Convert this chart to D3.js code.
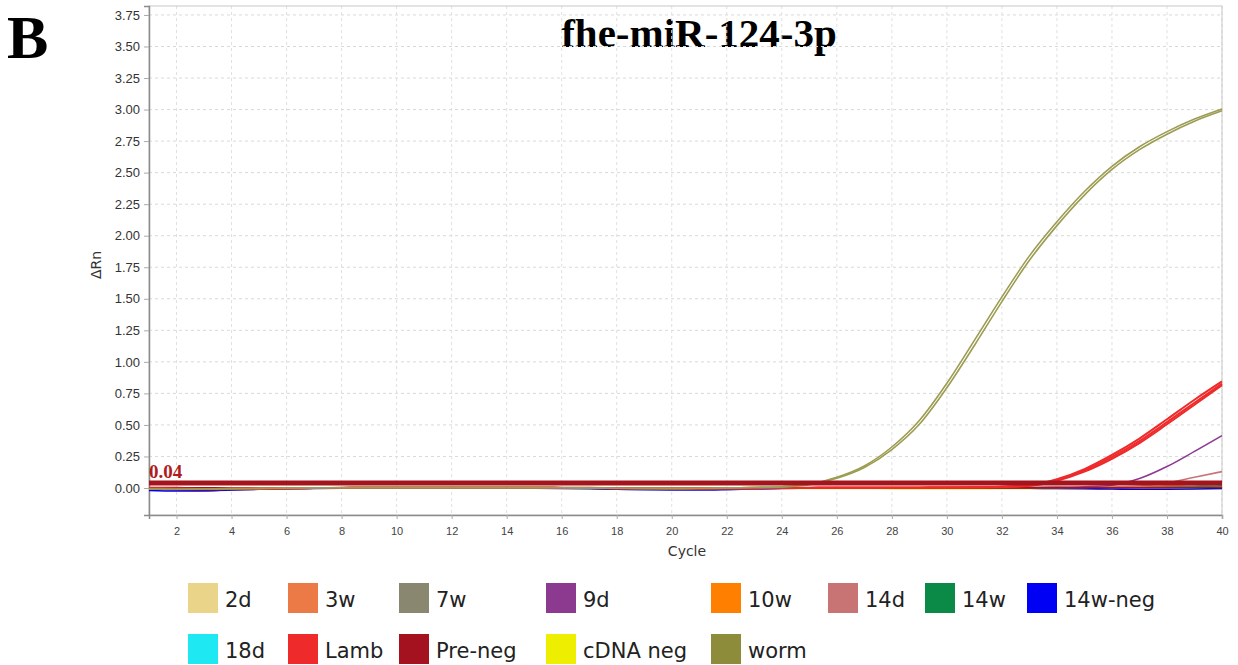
<!DOCTYPE html>
<html>
<head>
<meta charset="utf-8">
<script src="https://cdn.jsdelivr.net/npm/d3@7/dist/d3.min.js"></script>
<style>
  html, body { margin: 0; padding: 0; background: #fff; }
  svg { display: block; }
</style>
</head>
<body>
<svg id="chart" width="1238" height="665"></svg>
<script>
// Amplification plot: ΔRn per cycle for each sample
const cycles = [1,2,3,4,5,6,7,8,9,10,11,12,13,14,15,16,17,18,19,20,21,22,23,24,25,26,27,28,29,30,31,32,33,34,35,36,37,38,39,40];
const xTicks = [2,4,6,8,10,12,14,16,18,20,22,24,26,28,30,32,34,36,38,40];
const yTicks = [0,0.25,0.5,0.75,1,1.25,1.5,1.75,2,2.25,2.5,2.75,3,3.25,3.5,3.75];
const threshold = 0.04;

const sampleNames = ["2d","3w","7w","9d","10w","14d","14w","14w-neg","18d","Lamb","Pre-neg","cDNA neg","worm"];
const sampleColors = ["#e9d48a","#ec7a46","#8a8770","#8c3a90","#ff7f00","#c97474","#0b8a47","#0000f5","#1ee8f2","#ee2a2a","#a3121e","#eeee00","#8c8c3a"];

// replicate curves (values per cycle)
const curve2d      = [0.000,-0.005,-0.008,-0.006,-0.004,-0.002,0.000,0.001,0.002,0.002,0.002,0.002,0.002,0.002,0.002,0.001,0.000,-0.002,-0.004,-0.005,-0.005,-0.004,-0.002,0.000,0.001,0.002,0.002,0.002,0.002,0.002,0.002,0.002,0.001,0.000,-0.001,-0.001,0.000,0.002,0.004,0.006];
const curve3w      = [-0.010,-0.018,-0.025,-0.015,-0.008,-0.004,-0.001,0.001,0.002,0.002,0.002,0.002,0.002,0.002,0.002,0.001,0.000,-0.001,-0.002,-0.003,-0.003,-0.002,-0.001,0.000,0.001,0.002,0.002,0.002,0.002,0.002,0.002,0.002,0.002,0.003,0.004,0.006,0.010,0.018,0.030,0.052];
const curve7w      = [0.000,-0.004,-0.006,-0.005,-0.003,-0.002,0.000,0.001,0.001,0.002,0.002,0.002,0.002,0.002,0.002,0.001,0.000,-0.001,-0.002,-0.002,-0.002,-0.002,-0.001,0.000,0.001,0.001,0.002,0.002,0.002,0.002,0.002,0.002,0.001,0.001,0.001,0.002,0.004,0.008,0.016,0.030];
const curve9d      = [-0.006,-0.010,-0.012,-0.010,-0.007,-0.004,-0.002,0.000,0.001,0.002,0.002,0.002,0.002,0.002,0.002,0.001,0.000,-0.002,-0.004,-0.005,-0.005,-0.004,-0.003,-0.002,-0.001,0.000,0.001,0.001,0.001,0.001,0.002,0.002,0.003,0.005,0.010,0.022,0.075,0.170,0.290,0.415];
const curve10w     = [-0.006,-0.015,-0.022,-0.012,-0.006,-0.003,-0.001,0.000,0.001,0.001,0.001,0.001,0.001,0.001,0.001,0.000,-0.001,-0.002,-0.003,-0.003,-0.003,-0.002,-0.001,0.000,0.000,0.001,0.001,0.001,0.001,0.001,0.001,0.001,0.000,-0.001,-0.002,-0.003,-0.003,-0.002,0.000,0.004];
const curve14d     = [-0.004,-0.008,-0.010,-0.008,-0.006,-0.004,-0.002,0.000,0.001,0.001,0.001,0.001,0.001,0.001,0.001,0.000,-0.001,-0.003,-0.004,-0.005,-0.005,-0.004,-0.003,-0.002,-0.001,0.000,0.000,0.001,0.001,0.001,0.001,0.002,0.002,0.003,0.005,0.008,0.016,0.040,0.085,0.130];
const curve14w     = [-0.004,-0.008,-0.010,-0.008,-0.005,-0.003,-0.001,0.000,0.001,0.001,0.001,0.001,0.001,0.001,0.001,0.000,-0.001,-0.002,-0.003,-0.004,-0.004,-0.003,-0.002,-0.001,0.000,0.000,0.001,0.001,0.001,0.001,0.001,0.001,0.001,0.000,0.000,0.000,0.001,0.003,0.008,0.018];
const curve14wNeg  = [-0.020,-0.024,-0.022,-0.015,-0.010,-0.006,-0.003,-0.001,0.000,0.001,0.001,0.001,0.001,0.000,-0.001,-0.003,-0.006,-0.010,-0.014,-0.016,-0.016,-0.013,-0.008,-0.004,-0.002,0.000,0.001,0.001,0.001,0.001,0.001,0.000,-0.002,-0.004,-0.006,-0.008,-0.010,-0.010,-0.008,-0.004];
const curve18d     = [-0.004,-0.006,-0.007,-0.006,-0.004,-0.002,0.000,0.001,0.001,0.001,0.001,0.001,0.001,0.001,0.001,0.000,-0.001,-0.002,-0.003,-0.003,-0.003,-0.002,-0.001,0.000,0.000,0.001,0.001,0.001,0.001,0.001,0.001,0.001,0.000,0.000,-0.001,-0.001,0.000,0.001,0.003,0.006];
const curveLamb1   = [-0.002,-0.006,-0.008,-0.006,-0.004,-0.002,0.000,0.001,0.002,0.002,0.002,0.002,0.002,0.002,0.002,0.001,0.000,-0.001,-0.002,-0.003,-0.003,-0.002,-0.001,0.000,0.001,0.002,0.002,0.002,0.003,0.004,0.006,0.010,0.022,0.070,0.150,0.262,0.392,0.545,0.700,0.845];
const curveLamb2   = [-0.002,-0.006,-0.008,-0.006,-0.004,-0.002,0.000,0.001,0.002,0.002,0.002,0.002,0.002,0.002,0.002,0.001,0.000,-0.001,-0.002,-0.003,-0.003,-0.002,-0.001,0.000,0.001,0.002,0.002,0.002,0.003,0.004,0.006,0.009,0.020,0.064,0.140,0.246,0.372,0.522,0.676,0.828];
const curveLamb3   = [-0.002,-0.006,-0.008,-0.006,-0.004,-0.002,0.000,0.001,0.002,0.002,0.002,0.002,0.002,0.002,0.002,0.001,0.000,-0.001,-0.002,-0.003,-0.003,-0.002,-0.001,0.000,0.001,0.002,0.002,0.002,0.003,0.004,0.005,0.008,0.017,0.058,0.130,0.232,0.356,0.505,0.660,0.815];
const curvePreNeg  = [0.004,0.003,0.002,0.002,0.002,0.002,0.002,0.003,0.003,0.003,0.003,0.003,0.003,0.003,0.003,0.003,0.003,0.002,0.002,0.002,0.002,0.002,0.003,0.003,0.003,0.003,0.003,0.003,0.003,0.003,0.003,0.003,0.003,0.003,0.002,0.002,0.002,0.003,0.004,0.005];
const curveCdnaNeg = [-0.002,-0.004,-0.005,-0.004,-0.003,-0.002,-0.001,0.000,0.000,0.000,0.000,0.000,0.000,0.000,-0.001,-0.002,-0.004,-0.006,-0.007,-0.007,-0.007,-0.006,-0.005,-0.004,-0.003,-0.003,-0.004,-0.005,-0.006,-0.006,-0.006,-0.006,-0.006,-0.006,-0.006,-0.006,-0.006,-0.006,-0.006,-0.006];
const curveWorm1   = [-0.008,-0.010,-0.008,-0.005,-0.003,-0.001,0.001,0.002,0.003,0.003,0.003,0.003,0.003,0.003,0.003,0.002,0.000,-0.002,-0.003,-0.003,-0.002,0.000,0.004,0.010,0.030,0.085,0.175,0.325,0.535,0.830,1.170,1.515,1.840,2.110,2.350,2.550,2.705,2.825,2.925,3.005];
const curveWorm2   = [-0.008,-0.010,-0.008,-0.005,-0.003,-0.001,0.001,0.002,0.003,0.003,0.003,0.003,0.003,0.003,0.003,0.002,0.000,-0.002,-0.003,-0.003,-0.002,0.000,0.004,0.009,0.027,0.078,0.163,0.305,0.505,0.795,1.130,1.478,1.805,2.080,2.322,2.525,2.682,2.805,2.908,2.990];

const replicates = [
  ["2d", curve2d], ["3w", curve3w], ["7w", curve7w], ["10w", curve10w], ["14w", curve14w],
  ["18d", curve18d], ["cDNA neg", curveCdnaNeg], ["14w-neg", curve14wNeg], ["14d", curve14d],
  ["9d", curve9d], ["Pre-neg", curvePreNeg], ["Lamb", curveLamb3], ["Lamb", curveLamb2], ["Lamb", curveLamb1],
  ["worm", curveWorm1], ["worm", curveWorm2]
];

const colorOf = d3.scaleOrdinal().domain(sampleNames).range(sampleColors);

const svg = d3.select("#chart");
const plot = { left: 149, right: 1222, top: 6, bottom: 515 };

const x = d3.scaleLinear().domain([1, 40]).range([plot.left, plot.right]);
const y = d3.scaleLinear().domain([-0.214, 3.821]).range([plot.bottom, plot.top]);

// panel letter and title
svg.append("text").attr("x", 7).attr("y", 58)
  .attr("font-family", "Liberation Serif, Times New Roman, serif")
  .attr("font-weight", "bold").attr("font-size", 62).attr("fill", "#000").text("B");

svg.append("text").attr("x", 699).attr("y", 47).attr("text-anchor", "middle")
  .attr("font-family", "Liberation Serif, Times New Roman, serif")
  .attr("font-weight", "bold").attr("font-size", 41).attr("fill", "#000").text("fhe-miR-124-3p");

// grid
const grid = svg.append("g");
grid.selectAll("line.h").data(yTicks).join("line")
  .attr("x1", plot.left).attr("x2", plot.right)
  .attr("y1", d => y(d)).attr("y2", d => y(d))
  .attr("stroke", "#d9d9d9").attr("stroke-dasharray", "3,3").attr("stroke-width", 1);
grid.selectAll("line.v").data(xTicks).join("line")
  .attr("x1", d => x(d)).attr("x2", d => x(d))
  .attr("y1", plot.top).attr("y2", plot.bottom)
  .attr("stroke", "#e0e0e0").attr("stroke-dasharray", "3,3").attr("stroke-width", 1);

// frame
svg.append("rect").attr("x", plot.left).attr("y", plot.top)
  .attr("width", plot.right - plot.left).attr("height", plot.bottom - plot.top)
  .attr("fill", "none").attr("stroke", "#c8c8c8").attr("stroke-width", 1);

// axes
const yAxis = d3.axisLeft(y).tickValues(yTicks).tickFormat(d3.format(".2f")).tickSize(5).tickPadding(4);
const gy = svg.append("g").attr("transform", `translate(${plot.left},0)`).call(yAxis);
gy.select(".domain").attr("stroke", "#8c8c8c").attr("stroke-width", 1.5);
gy.selectAll(".tick line").attr("stroke", "#aaa");
gy.selectAll("text").attr("font-family", "Liberation Sans, Arial, sans-serif").attr("font-size", 13).attr("fill", "#333");

const xAxis = d3.axisBottom(x).tickValues(xTicks).tickFormat(d3.format("d")).tickSize(4).tickPadding(8);
const gx = svg.append("g").attr("transform", `translate(0,${plot.bottom})`).call(xAxis);
gx.select(".domain").attr("stroke", "#8c8c8c").attr("stroke-width", 1.5);
gx.selectAll(".tick line").attr("stroke", "#aaa");
gx.selectAll("text").attr("font-family", "Liberation Sans, Arial, sans-serif").attr("font-size", 11).attr("fill", "#444");

svg.append("text").attr("x", 687).attr("y", 556).attr("text-anchor", "middle")
  .attr("font-family", "DejaVu Sans, Verdana, sans-serif").attr("font-size", 14).attr("fill", "#333").text("Cycle");
svg.append("text").attr("transform", "translate(101,265) rotate(-90)").attr("text-anchor", "middle")
  .attr("font-family", "DejaVu Sans, Verdana, sans-serif").attr("font-size", 14).attr("fill", "#333").text("ΔRn");

// curves
const line = d3.line().x((d, i) => x(cycles[i])).y(d => y(d)).curve(d3.curveMonotoneX);
const curves = svg.append("g");
curves.selectAll("path").data(replicates).join("path")
  .attr("d", d => line(d[1]))
  .attr("fill", "none")
  .attr("stroke", d => d[0] === "worm" ? "#9c9c52" : colorOf(d[0]))
  .attr("stroke-width", d => d[0] === "Lamb" ? 2 : 1.6)
  .attr("stroke-linejoin", "round");

// threshold
svg.append("line").attr("x1", plot.left).attr("x2", plot.right)
  .attr("y1", y(threshold)).attr("y2", y(threshold))
  .attr("stroke", "#a3141c").attr("stroke-width", 5);
svg.append("text").attr("x", plot.left).attr("y", y(threshold) - 5)
  .attr("font-family", "Liberation Serif, Times New Roman, serif").attr("font-weight", "bold")
  .attr("font-size", 19).attr("fill", "#b01c1c").text(threshold.toFixed(2));

// legend
const legendRows = [
  [["2d",188],["3w",288],["7w",399],["9d",546],["10w",711],["14d",828],["14w",925],["14w-neg",1027]],
  [["18d",188],["Lamb",288],["Pre-neg",399],["cDNA neg",546],["worm",711]]
];
const legendTop = [583, 634];
const legend = svg.append("g");
legendRows.forEach((row, r) => {
  const g = legend.append("g");
  g.selectAll("rect").data(row).join("rect")
    .attr("x", d => d[1]).attr("y", legendTop[r]).attr("width", 30).attr("height", 30)
    .attr("fill", d => colorOf(d[0]));
  g.selectAll("text").data(row).join("text")
    .attr("x", d => d[1] + 37).attr("y", legendTop[r] + 24)
    .attr("font-family", "DejaVu Sans, Verdana, sans-serif").attr("font-size", 21).attr("fill", "#222")
    .text(d => d[0]);
});
</script>
</body>
</html>
